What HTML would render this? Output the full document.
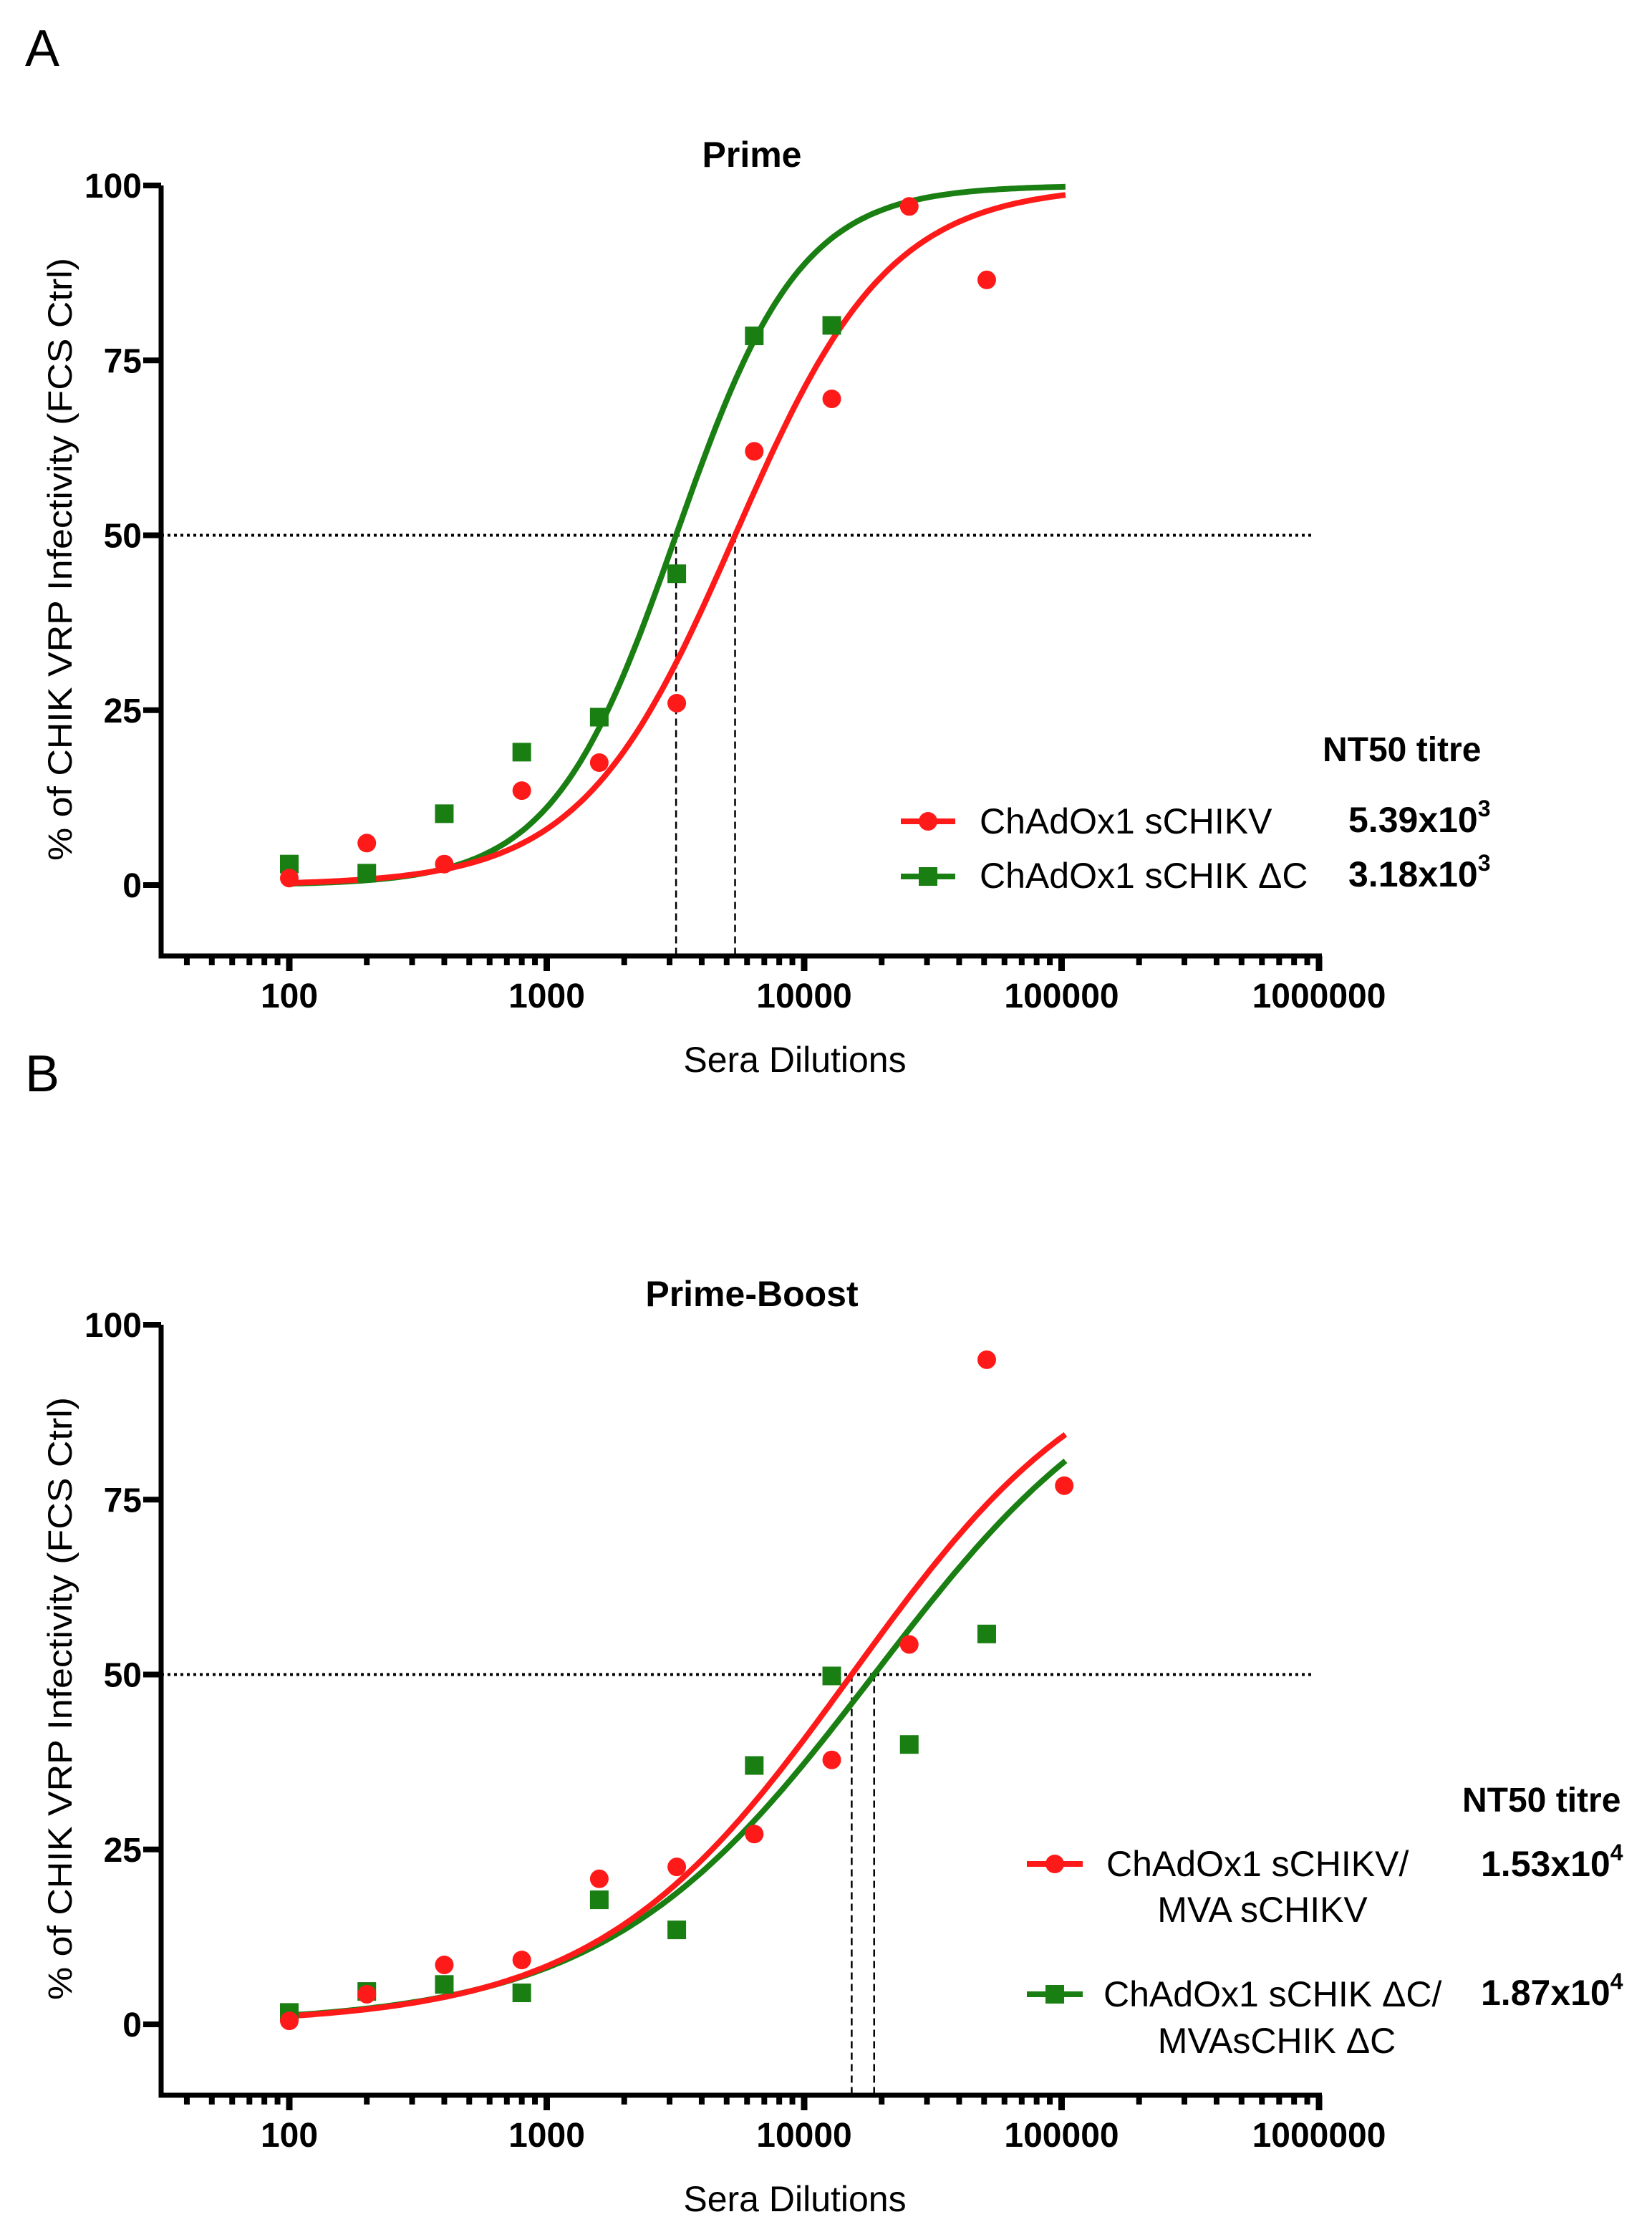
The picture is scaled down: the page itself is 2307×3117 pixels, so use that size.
<!DOCTYPE html>
<html><head><meta charset="utf-8"><title>NT50 curves</title>
<style>html,body{margin:0;padding:0;background:#fff}svg{display:block}</style></head>
<body>
<svg id="fig" xmlns="http://www.w3.org/2000/svg" width="2307" height="3117" viewBox="0 0 2307 3117" font-family="Liberation Sans, Arial, sans-serif">
<rect width="2307" height="3117" fill="#fff"/>
</svg>
<script>
// ---- data ----
const dilutionsRed = [100,200,400,800,1600,3200,6400,12800,25600,51200];
const dilutionsGreen = [100,200,400,800,1600,3200,6400,12800];
const primeRed = [1,6,3,13.5,17.5,26,62,69.5,97,86.5];
const primeGreen = [3,1.7,10.2,19,24,44.5,78.5,80];
const boostDilRed = [100,200,400,800,1600,3200,6400,12800,25600,51200,102400];
const boostDilGreen = [100,200,400,800,1600,3200,6400,12800,25600,51200];
const boostRed = [0.5,4.3,8.5,9.2,20.8,22.5,27.2,37.8,54.3,95,77];
const boostGreen = [1.7,4.7,5.7,4.5,17.8,13.5,37,49.8,40,55.8];
const primeEC50 = [5390, 3180];
const primeHill = [1.45, 1.8];
const boostEC50 = [15300, 18700];
const boostHill = [0.88, 0.83];
const yTicks = [0,25,50,75,100];
const xTickLabels = ["100","1000","10000","100000","1000000"];

const NS = "http://www.w3.org/2000/svg";
const svg = document.getElementById('fig');
const RED = "#ff1a1a", GREEN = "#1a7f12";
function el(tag, attrs, parent){ const e=document.createElementNS(NS,tag); for(const k in attrs) e.setAttribute(k,attrs[k]); (parent||svg).appendChild(e); return e; }

function panel(o){
  const g = el('g',{});
  
  
  const X0=225, X100=404, DEC=359.5, Y100=o.y100, Y0=o.y100+977, AX=Y0+99;
  const xs = v => X100 + (Math.log10(v)-2)*DEC;
  const ys = v => Y0 - v*(Y0-Y100)/100;
  const t = el('text',{x:1050,y:Y100-26,'font-size':50,'font-weight':'bold','text-anchor':'middle'},g); t.textContent=o.title;
   
  const yl = el('text',{x:0,y:0,'font-size':47,'text-anchor':'middle',textLength:842,lengthAdjust:'spacingAndGlyphs',transform:`translate(100 ${Y100+522}) rotate(-90)`},g);
  yl.textContent='% of CHIK VRP Infectivity (FCS Ctrl)';
   
  const xEnd = xs(1e6);
  const ax = el('path',{d:`M${X0} ${Y100} L${X0} ${AX} L${xEnd+4} ${AX}`,fill:'none',stroke:'#000','stroke-width':7},g);
   
  yTicks.forEach(v=>{
    el('line',{x1:X0-25,x2:X0,y1:ys(v),y2:ys(v),stroke:'#000','stroke-width':8},g);
    const tl=el('text',{x:198,y:ys(v)+17,'font-size':48,'font-weight':'bold','text-anchor':'end'},g); tl.textContent=v;
     
  });
  for(let e=1;e<=5;e++){ for(let m=1;m<=9;m++){ const v=m*Math.pow(10,e); if(v<31.6) continue; if(v>1e6) break;
    const major = m===1; el('line',{x1:xs(v),x2:xs(v),y1:AX,y2:AX+(major?21:13),stroke:'#000','stroke-width':major?9:8},g);} }
  el('line',{x1:xs(1e6),x2:xs(1e6),y1:AX,y2:AX+21,stroke:'#000','stroke-width':9},g);
  xTickLabels.forEach(s=>{ const tl=el('text',{x:xs(+s),y:AX+72,'font-size':48,'font-weight':'bold','text-anchor':'middle'},g); tl.textContent=s;
      });
  const xl=el('text',{x:1110,y:AX+162,'font-size':50,'text-anchor':'middle'},g); xl.textContent='Sera Dilutions';
   
  const hl=el('line',{x1:X0,x2:xEnd-6,y1:ys(50),y2:ys(50),stroke:'#000','stroke-width':4,'stroke-dasharray':'4 5'},g);
   
  o.ec50.forEach(ec=>{ const vl=el('line',{x1:xs(ec),x2:xs(ec),y1:ys(50),y2:AX,stroke:'#000','stroke-width':2.5,'stroke-dasharray':'10 6'},g);
      });
  const colors=[RED,GREEN];
  [1,0].forEach(i=>{
    let d=''; for(let k=0;k<=200;k++){ const lx=2+k*(5.015-2)/200; const y=100/(1+Math.pow(10,o.hill[i]*(Math.log10(o.ec50[i])-lx)));
      d+=(k?'L':'M')+(X100+(lx-2)*DEC).toFixed(1)+' '+ys(y).toFixed(1); }
    const c=el('path',{d,fill:'none',stroke:colors[i],'stroke-width':8},g);
     
  });
  o.gx.forEach((x,k)=>{ const p=el('rect',{x:xs(x)-13,y:ys(o.gy[k])-13,width:26,height:26,fill:GREEN},g);
      });
  o.rx.forEach((x,k)=>{ const p=el('circle',{cx:xs(x),cy:ys(o.ry[k]),r:13,fill:RED},g);
      });
  return g;
}

panel({name:'panel-a-prime',title:'Prime',y100:259,rx:dilutionsRed,ry:primeRed,gx:dilutionsGreen,gy:primeGreen,ec50:primeEC50,hill:primeHill});
panel({name:'panel-b-prime-boost',title:'Prime-Boost',y100:1850,rx:boostDilRed,ry:boostRed,gx:boostDilGreen,gy:boostGreen,ec50:boostEC50,hill:boostHill});

function txt(x,y,s,size,bold,anchor,name){ const t=el('text',{x,y,'font-size':size,'font-weight':bold?'bold':'normal','text-anchor':anchor||'start'}); t.textContent=s;
    return t; }
function sup(x,y,base,exp,name){ const t=el('text',{x,y,'font-size':50,'font-weight':'bold'});  
  t.appendChild(document.createTextNode(base)); const s=document.createElementNS(NS,'tspan'); s.setAttribute('font-size',32); s.setAttribute('dy',-22); s.textContent=exp; t.appendChild(s); return t; }
function legMark(x1,x2,y,color,square,name){ const g=el('g',{});  
  el('line',{x1,x2,y1:y,y2:y,stroke:color,'stroke-width':8},g);
  if(square) el('rect',{x:(x1+x2)/2-13,y:y-13,width:26,height:26,fill:color},g); else el('circle',{cx:(x1+x2)/2,cy:y,r:13,fill:color},g); }

txt(59,92,'A',72,false,'middle','panel-label-a');
txt(59,1524,'B',72,false,'middle','panel-label-b');

txt(1847,1063,'NT50 titre',48,true,'start','legend-a-title');
legMark(1258,1334,1147,RED,false,'legend-a-red-marker');
legMark(1258,1334,1224,GREEN,true,'legend-a-green-marker');
txt(1368,1164,'ChAdOx1 sCHIKV',50,false,'start','legend-a-red-label');
txt(1368,1240,'ChAdOx1 sCHIK \u0394C',50,false,'start','legend-a-green-label');
sup(1883,1162,'5.39x10','3','legend-a-red-value');
sup(1883,1238,'3.18x10','3','legend-a-green-value');

txt(2042,2530,'NT50 titre',48,true,'start','legend-b-title');
legMark(1434,1512,2603,RED,false,'legend-b-red-marker');
legMark(1434,1512,2785,GREEN,true,'legend-b-green-marker');
txt(1545,2620,'ChAdOx1 sCHIKV/',50,false,'start','legend-b-red-label-1');
txt(1763,2684,'MVA sCHIKV',50,false,'middle','legend-b-red-label-2');
txt(1541,2802,'ChAdOx1 sCHIK \u0394C/',50,false,'start','legend-b-green-label-1');
txt(1783,2867,'MVAsCHIK \u0394C',50,false,'middle','legend-b-green-label-2');
sup(2068,2620,'1.53x10','4','legend-b-red-value');
sup(2068,2800,'1.87x10','4','legend-b-green-value');
</script>
</body></html>
